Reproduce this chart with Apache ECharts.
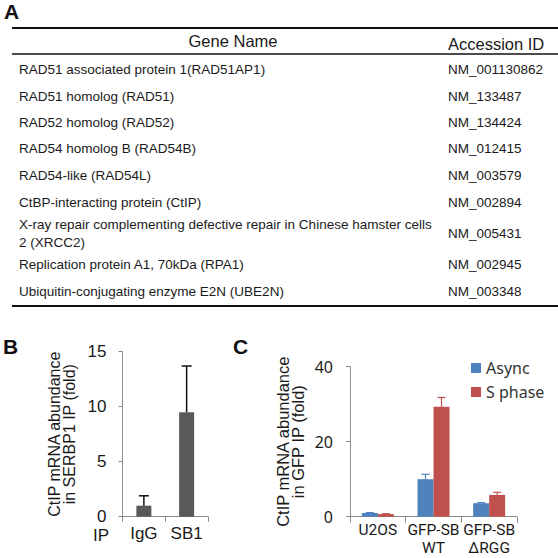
<!DOCTYPE html>
<html><head><meta charset="utf-8">
<script src="https://cdn.jsdelivr.net/npm/echarts@6/dist/echarts.min.js"></script>
<style>html,body{margin:0;padding:0;background:#fff}#c{width:558px;height:558px}</style>
</head><body><div id="c"></div>
<script>
// ---- data ----
const tableHeaders = ['Gene Name', 'Accession ID'];
const geneNames = [
  'RAD51 associated protein 1(RAD51AP1)',
  'RAD51 homolog (RAD51)',
  'RAD52 homolog (RAD52)',
  'RAD54 homolog B (RAD54B)',
  'RAD54-like (RAD54L)',
  'CtBP-interacting protein (CtIP)',
  'X-ray repair complementing defective repair in Chinese hamster cells\n2 (XRCC2)',
  'Replication protein A1, 70kDa (RPA1)',
  'Ubiquitin-conjugating enzyme E2N (UBE2N)'
];
const accessionIds = ['NM_001130862','NM_133487','NM_134424','NM_012415','NM_003579','NM_002894','NM_005431','NM_002945','NM_003348'];

const ipCategories = ['IgG', 'SB1'];
const ipValues = [1.0, 9.5];
const ipErrors = [0.9, 4.2];

const gfpCategories = ['U2OS', 'GFP-SB\nWT', 'GFP-SB\nΔRGG'];
const seriesNames = ['Async', 'S phase'];
const asyncValues = [1.0, 10.0, 3.6];
const asyncErrors = [0.1, 1.3, 0.15];
const sPhaseValues = [0.7, 29.3, 5.8];
const sPhaseErrors = [0.1, 2.5, 0.7];

// ---- layout ----
const rowCenters = [69, 96, 122, 148, 175, 202, 233, 264, 291];
const ARIAL = 'Liberation Sans, Arial, sans-serif';
const SANS = 'Noto Sans, Open Sans, sans-serif';
const ROBO = 'Roboto, Noto Sans, sans-serif';
const TXT = '#1a1a1a';
const AXIS = '#8c8c8c';

const graphics = [];
graphics.push({type:'text', left:4, top:1, style:{text:'A', font:'bold 21px ' + ARIAL, fill:'#111'}});
graphics.push({type:'text', left:3, top:336, style:{text:'B', font:'bold 21px ' + ARIAL, fill:'#111'}});
graphics.push({type:'text', left:233, top:336, style:{text:'C', font:'bold 21px ' + ARIAL, fill:'#111'}});
// rules
graphics.push({type:'line', shape:{x1:12, y1:28, x2:558, y2:28}, style:{stroke:'#111', lineWidth:2}});
graphics.push({type:'line', shape:{x1:12, y1:54, x2:558, y2:54}, style:{stroke:'#111', lineWidth:1.6}});
graphics.push({type:'line', shape:{x1:12, y1:306, x2:558, y2:306}, style:{stroke:'#111', lineWidth:2}});
// headers
graphics.push({type:'text', x:233, y:41, style:{text:tableHeaders[0], font:'16.5px ' + ARIAL, fill:TXT, textAlign:'center', textVerticalAlign:'middle'}});
graphics.push({type:'text', x:448, y:44, style:{text:tableHeaders[1], font:'16.5px ' + ARIAL, fill:TXT, textAlign:'left', textVerticalAlign:'middle'}});
geneNames.forEach((g, i) => {
  graphics.push({type:'text', x:19, y:rowCenters[i], style:{text:g, font:'13.5px ' + ARIAL, fill:TXT, textAlign:'left', textVerticalAlign:'middle', lineHeight:18}});
  graphics.push({type:'text', x:448, y:rowCenters[i], style:{text:accessionIds[i], font:'13.5px ' + ARIAL, fill:TXT, textAlign:'left', textVerticalAlign:'middle'}});
});
graphics.push({type:'text', x:101, y:535, style:{text:'IP', font:'17px ' + ARIAL, fill:TXT, textAlign:'center', textVerticalAlign:'middle'}});

function errorSeries(xi, yi, values, errors, color, offset, cap, lw) {
  return {
    type:'custom', xAxisIndex:xi, yAxisIndex:yi, z:5,
    data: values.map((v, i) => [i, v, errors[i]]),
    renderItem: function (params, api) {
      const i = api.value(0), v = api.value(1), e = api.value(2);
      const base = api.coord([i, v]);
      const top = api.coord([i, v + e]);
      const x = base[0] + offset;
      return {type:'group', children:[
        {type:'line', shape:{x1:x, y1:base[1], x2:x, y2:top[1]}, style:{stroke:color, lineWidth:lw}},
        {type:'line', shape:{x1:x - cap, y1:top[1], x2:x + cap, y2:top[1]}, style:{stroke:color, lineWidth:lw}}
      ]};
    }
  };
}

const chart = echarts.init(document.getElementById('c'), null, {renderer:'svg'});
chart.setOption({
  animation:false,
  backgroundColor:'#fff',
  graphic: graphics,
  legend: {
    data: seriesNames, orient:'vertical', left:466, top:355,
    itemWidth:10, itemHeight:10, itemGap:8, icon:'rect',
    textStyle:{fontSize:16, fontFamily:SANS, color:'#333'}
  },
  grid: [
    {left:122.5, top:351.7, width:85.5, height:165},
    {left:350, top:366.7, width:167, height:150}
  ],
  xAxis: [
    {type:'category', gridIndex:0, data:ipCategories,
     axisLine:{lineStyle:{color:AXIS, width:1}}, axisTick:{show:true, length:5, lineStyle:{color:AXIS}},
     axisLabel:{fontSize:17, fontFamily:ARIAL, color:TXT, margin:8}},
    {type:'category', gridIndex:1, data:gfpCategories,
     axisLine:{lineStyle:{color:AXIS, width:1}}, axisTick:{show:true, length:6, lineStyle:{color:AXIS}},
     axisLabel:{fontSize:15.5, fontFamily:ROBO, color:TXT, margin:4, lineHeight:18.5, interval:0}}
  ],
  yAxis: [
    {type:'value', gridIndex:0, min:0, max:15, interval:5,
     axisLine:{show:true, lineStyle:{color:AXIS, width:1}}, axisTick:{show:true, length:4, lineStyle:{color:AXIS}},
     splitLine:{show:false},
     axisLabel:{fontSize:17, fontFamily:ARIAL, color:TXT, margin:16},
     name:'CtIP mRNA abundance\nin SERBP1 IP (fold)', nameLocation:'middle', nameRotate:90, nameGap:46,
     nameTextStyle:{fontSize:16, fontFamily:ARIAL, color:TXT, lineHeight:15}},
    {type:'value', gridIndex:1, min:0, max:40, interval:20,
     axisLine:{show:true, lineStyle:{color:AXIS, width:1}}, axisTick:{show:true, length:4, lineStyle:{color:AXIS}},
     splitLine:{show:false},
     axisLabel:{fontSize:16, fontFamily:SANS, color:TXT, margin:17},
     name:'CtIP mRNA abundance\nin GFP IP (fold)', nameLocation:'middle', nameRotate:90, nameGap:45,
     nameTextStyle:{fontSize:16.5, fontFamily:ARIAL, color:TXT, lineHeight:15}}
  ],
  series: [
    {type:'bar', name:'IgG/SB1', xAxisIndex:0, yAxisIndex:0, data:ipValues, barWidth:15, itemStyle:{color:'#595959'}},
    errorSeries(0, 0, ipValues, ipErrors, '#111', 0, 5, 1.5),
    {type:'bar', name:seriesNames[0], xAxisIndex:1, yAxisIndex:1, data:asyncValues, barWidth:16, barGap:'0%', itemStyle:{color:'#4F81BD'}},
    {type:'bar', name:seriesNames[1], xAxisIndex:1, yAxisIndex:1, data:sPhaseValues, barWidth:16, barGap:'0%', itemStyle:{color:'#C0504D'}},
    errorSeries(1, 1, asyncValues, asyncErrors, '#4F81BD', -8, 4, 1.2),
    errorSeries(1, 1, sPhaseValues, sPhaseErrors, '#C0504D', 8, 4, 1.2)
  ]
});
</script>
</body></html>
